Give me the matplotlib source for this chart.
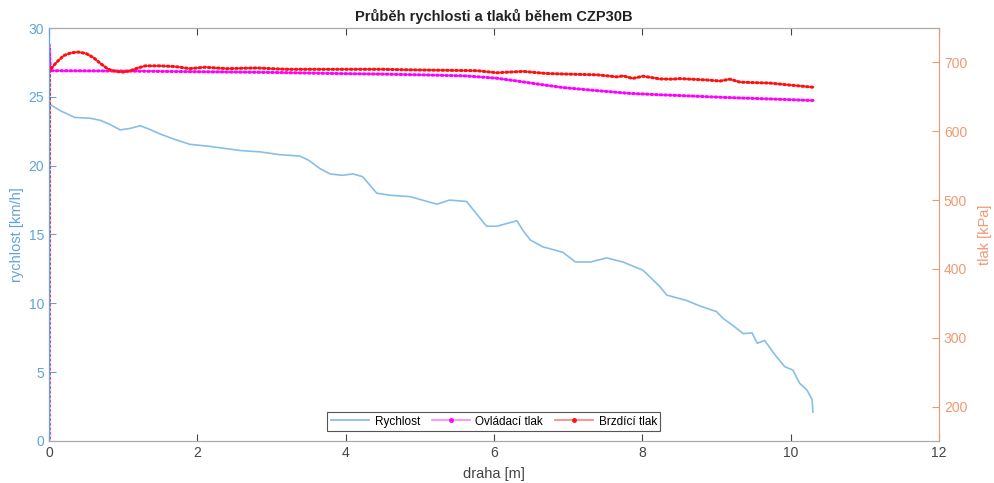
import matplotlib
matplotlib.use("Agg")
import matplotlib.pyplot as plt
from matplotlib.lines import Line2D

plt.rcParams["font.family"] = ["Liberation Sans", "DejaVu Sans"]

# Rychlost (left axis)
dist_v = [0, 0.15, 0.35, 0.55, 0.69, 0.82, 0.96, 1.09, 1.23, 1.33, 1.5, 1.7, 1.9, 2.17,
          2.58, 2.85, 3.11, 3.38, 3.5, 3.65, 3.79, 3.95, 4.1, 4.23, 4.42, 4.6, 4.87, 5.23,
          5.4, 5.63, 5.9, 6.04, 6.31, 6.39, 6.49, 6.66, 6.8, 6.93, 7.1, 7.3, 7.52, 7.74,
          8.01, 8.24, 8.33, 8.6, 8.78, 9.0, 9.09, 9.22, 9.36, 9.48, 9.55, 9.65, 9.79, 9.92,
          10.03, 10.12, 10.22, 10.29, 10.3]
speed = [24.5, 24.0, 23.5, 23.45, 23.3, 23.0, 22.6, 22.7, 22.9, 22.7, 22.3, 21.9, 21.55, 21.4,
         21.1, 21.0, 20.8, 20.7, 20.4, 19.8, 19.4, 19.3, 19.4, 19.2, 18.0, 17.85, 17.75, 17.2,
         17.5, 17.4, 15.6, 15.6, 16.0, 15.3, 14.6, 14.1, 13.9, 13.7, 13.0, 13.0, 13.3, 13.0,
         12.4, 11.2, 10.6, 10.2, 9.8, 9.4, 8.9, 8.4, 7.8, 7.85, 7.1, 7.3, 6.25, 5.4,
         5.15, 4.2, 3.7, 3.0, 2.1]

# Ovladaci tlak (right axis)
dist_c = [0, 0, 0.02, 1.0, 2.0, 3.0, 3.8, 4.5, 5.0, 5.6, 5.8, 6.04, 6.31, 6.66, 6.93, 7.39,
          7.83, 8.24, 8.7, 9.14, 9.7, 10.3]
ctrl_p = [100, 726, 688, 687.5, 686.5, 685.5, 684, 683, 682, 680.5, 679, 677, 673, 667.5, 663.5,
          659, 655, 653, 651, 649, 647, 644.7]

# Brzdici tlak (right axis)
dist_b = [0, 0.005, 0.1, 0.2, 0.3, 0.4, 0.5, 0.6, 0.7, 0.8, 0.9, 1.0, 1.1, 1.2, 1.3, 1.5, 1.7,
          1.9, 2.1, 2.4, 2.8, 3.2, 3.79, 4.5, 5.0, 5.77, 6.04, 6.39, 6.7, 7.0, 7.39, 7.66, 7.74,
          7.87, 8.01, 8.24, 8.41, 8.5, 8.87, 9.05, 9.18, 9.32, 9.72, 10.0, 10.3]
brake_p = [100, 688, 700, 710, 714, 715, 713, 707, 698, 690, 687, 686, 688, 692, 695, 695, 694,
           691, 693, 691, 692, 690, 690, 690, 689, 688, 685, 687, 684, 683, 682, 679, 680.5,
           676.7, 680, 676, 675.7, 676.5, 674.5, 673, 675.7, 671.3, 670, 667, 664]

BLUE = "#5fa5da"
LINE_BLUE = "#88bfe6"
ORANGE = "#ee9a72"
GREY = "#444444"

fig = plt.figure(figsize=(9.95, 4.83), dpi=100)
ax = fig.add_axes([0.0492, 0.087, 0.8945, 0.855])
ax2 = ax.twinx()

ax.plot(dist_v, speed, color=LINE_BLUE, lw=1.2)

for x, y, c_line, c_dot in [(dist_c, ctrl_p, "#ff5cff", "#ff00ff"),
                            (dist_b, brake_p, "#ff6060", "#ff1010")]:
    ax2.plot(x, y, color=c_line, lw=1.0)
    ax2.plot(x, y, color=c_dot, lw=2.2, ls=(0, (0.5, 1.0)), dash_capstyle="round")

ax.set_xlim(0, 12)
ax.set_ylim(0, 30)
ax2.set_ylim(150, 750)
ax.set_xticks(range(0, 13, 2))
ax.set_yticks(range(0, 31, 5))
ax2.set_yticks(range(200, 701, 100))

ax.tick_params(axis="x", direction="in", top=True, colors=GREY, labelsize=10, length=5)
ax.tick_params(axis="y", direction="in", colors=BLUE, labelsize=10, length=5)
ax2.tick_params(axis="y", direction="in", colors=ORANGE, labelsize=10, length=5)
for s in ["top", "bottom"]:
    ax.spines[s].set_color("#aaaaaa")
    ax2.spines[s].set_color("#aaaaaa")
ax2.spines["left"].set_color(BLUE)
ax.spines["left"].set_color(BLUE)
ax2.spines["right"].set_color(ORANGE)
ax.spines["right"].set_visible(False)

ax.set_xlabel("draha [m]", color=GREY, fontsize=10.5, labelpad=5)
ax.set_ylabel("rychlost [km/h]", color=BLUE, fontsize=10.5, labelpad=3)
ax2.set_ylabel("tlak [kPa]", color=ORANGE, fontsize=10.5, labelpad=8)
ax.set_title("Průběh rychlosti a tlaků během CZP30B", fontsize=10.5, fontweight="bold",
             color="#222222", pad=5)

handles = [
    Line2D([], [], color=LINE_BLUE, lw=1.3),
    Line2D([], [], color="#ff8cff", lw=1.3, marker=".", markersize=5,
           markerfacecolor="#ff00ff", markeredgecolor="#ff00ff"),
    Line2D([], [], color="#ff8a8a", lw=1.3, marker=".", markersize=5,
           markerfacecolor="#ff1010", markeredgecolor="#ff1010"),
]
leg = ax2.legend(handles, ["Rychlost", "Ovládací tlak", "Brzdící tlak"], ncol=3,
                 loc="lower center", bbox_to_anchor=(0.5, 0.024), borderaxespad=0,
                 fancybox=False, edgecolor="#555555", fontsize=8.5, handlelength=3.2,
                 columnspacing=1.0, handletextpad=0.5, borderpad=0.3, framealpha=1)
leg.get_frame().set_linewidth(0.8)

fig.savefig("out.png", dpi=100)
